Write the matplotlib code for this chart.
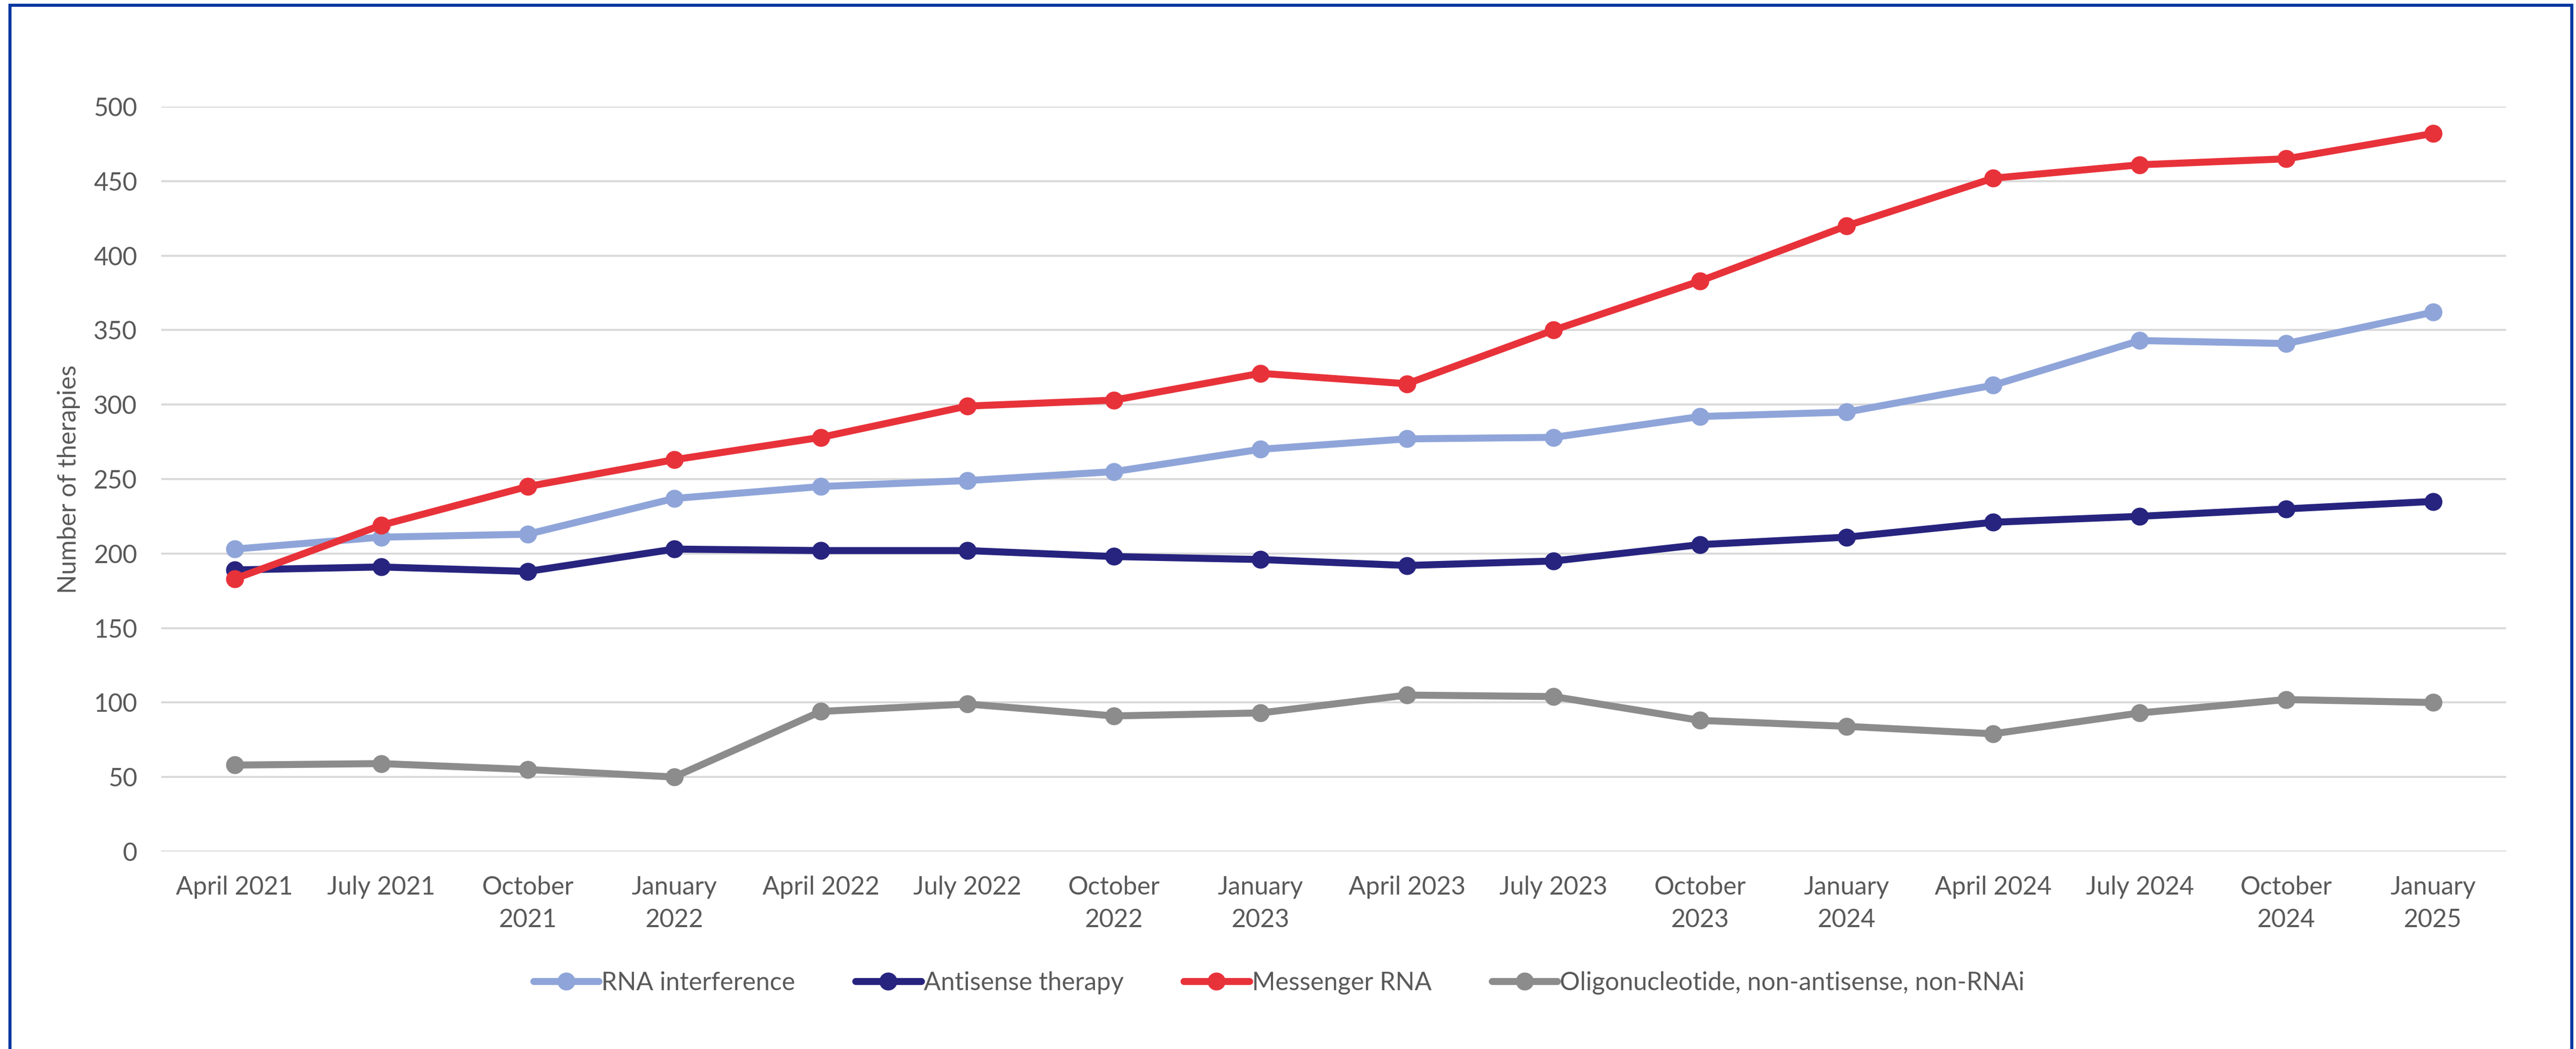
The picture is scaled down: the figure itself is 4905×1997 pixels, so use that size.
import matplotlib

matplotlib.use("Agg")
import matplotlib.pyplot as plt
from matplotlib.patches import Rectangle

plt.rcParams["font.family"] = ["Lato", "DejaVu Sans"]

quarters = [
    "April 2021", "July 2021", "October\n2021", "January\n2022",
    "April 2022", "July 2022", "October\n2022", "January\n2023",
    "April 2023", "July 2023", "October\n2023", "January\n2024",
    "April 2024", "July 2024", "October\n2024", "January\n2025",
]
rna_interference = [203, 211, 213, 237, 245, 249, 255, 270, 277, 278, 292, 295, 313, 343, 341, 362]
antisense = [189, 191, 188, 203, 202, 202, 198, 196, 192, 195, 206, 211, 221, 225, 230, 235]
messenger_rna = [183, 219, 245, 263, 278, 299, 303, 321, 314, 350, 383, 420, 452, 461, 465, 482]
oligo_other = [58, 59, 55, 50, 94, 99, 91, 93, 105, 104, 88, 84, 79, 93, 102, 100]

series = [
    ("RNA interference", rna_interference, "#8FA5D9"),
    ("Antisense therapy", antisense, "#27247F"),
    ("Messenger RNA", messenger_rna, "#E8323A"),
    ("Oligonucleotide, non-antisense, non-RNAi", oligo_other, "#8C8C8C"),
]

TEXT = "#595959"

fig = plt.figure(figsize=(4906 / 300, 1997 / 300), dpi=300)
ax = fig.add_axes([0.0626, 0.1883, 0.9101, 0.71])

x = list(range(len(quarters)))
for name, vals, color in series:
    ax.plot(x, vals, color=color, lw=3.2, marker="o", ms=7.2,
            solid_capstyle="round", label=name, zorder=3)

ax.set_xlim(-0.5, len(quarters) - 0.5)
ax.set_ylim(0, 500)
ax.set_yticks(range(0, 501, 50))
ax.set_xticks(x)
ax.set_xticklabels(quarters, linespacing=1.5)
ax.grid(axis="y", color="#D9D9D9", lw=0.9, zorder=0)
ax.set_axisbelow(True)
for side in ("top", "right", "left", "bottom"):
    ax.spines[side].set_visible(False)
ax.tick_params(axis="both", length=0, labelsize=11.5, colors=TEXT)
ax.tick_params(axis="y", pad=11)
ax.tick_params(axis="x", pad=11)

ax.set_ylabel("Number of therapies", fontsize=11.5, color=TEXT)
ax.yaxis.set_label_coords(-0.0345, 0.5)

leg = fig.legend(loc="center", bbox_to_anchor=(0.4964, 0.063), ncol=4,
                 frameon=False, fontsize=11.5, handlelength=2.6,
                 handletextpad=0.1, columnspacing=2.4, markerscale=1.0)
for t in leg.get_texts():
    t.set_color(TEXT)

# dark blue frame around the figure (bottom edge runs off the canvas)
fig.patches.append(Rectangle((0.0038, -0.02), 0.9944, 1.0152, transform=fig.transFigure,
                             fill=False, edgecolor="#0537A0", lw=1.4, zorder=10))

fig.savefig("out.png", dpi=300, facecolor="white")
